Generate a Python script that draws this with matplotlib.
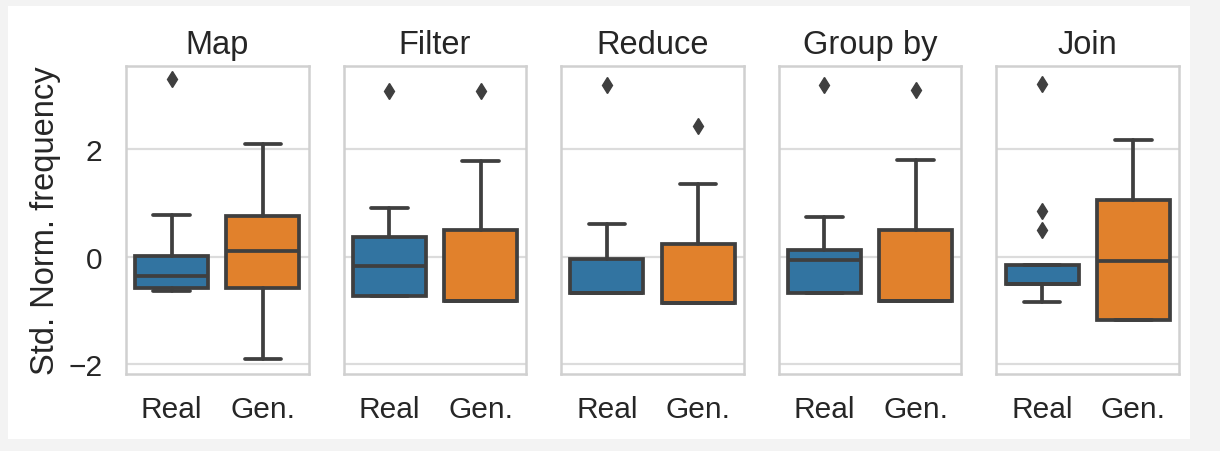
import matplotlib
matplotlib.use("Agg")
import matplotlib.pyplot as plt
from matplotlib.patches import Rectangle
import seaborn as sns

panels = ["Map", "Filter", "Reduce", "Group by", "Join"]
groups = ["Real", "Gen."]

# box statistics per panel (standardised frequencies)
real_whislo = [-0.64, -0.72, -0.68, -0.68, -0.84]
real_q1 = [-0.58, -0.72, -0.68, -0.68, -0.51]
real_med = [-0.35, -0.17, -0.68, -0.06, -0.51]
real_q3 = [0.02, 0.37, -0.04, 0.13, -0.16]
real_whishi = [0.78, 0.91, 0.61, 0.74, -0.16]
real_fliers = [[3.31], [3.09], [3.20], [3.20], [3.21, 0.85, 0.49]]

gen_whislo = [-1.90, -0.82, -0.86, -0.83, -1.18]
gen_q1 = [-0.58, -0.82, -0.86, -0.83, -1.18]
gen_med = [0.11, -0.82, -0.86, -0.83, -0.07]
gen_q3 = [0.76, 0.50, 0.23, 0.50, 1.06]
gen_whishi = [2.10, 1.79, 1.36, 1.81, 2.18]
gen_fliers = [[], [3.09], [2.44], [3.11], []]

colors = ["#3274a1", "#e1812c"]
line_c = "#3f3f3f"
lw = 2.7

sns.set_style("whitegrid")
plt.rcParams["font.family"] = ["Liberation Sans", "DejaVu Sans"]

fig, axes = plt.subplots(1, 5, figsize=(12.2, 4.52), dpi=100, sharey=True)
fig.patch.set_facecolor("#f3f3f3")
fig.patches.append(Rectangle((8 / 1220, 12 / 452), 1182 / 1220, 433 / 452,
                             transform=fig.transFigure, facecolor="white",
                             edgecolor="none", zorder=-10))
fig.subplots_adjust(left=126 / 1220, right=1179 / 1220, bottom=1 - 375 / 452,
                    top=1 - 67 / 452, wspace=0.192)

for i, ax in enumerate(axes):
    stats = [
        dict(whislo=real_whislo[i], q1=real_q1[i], med=real_med[i], q3=real_q3[i],
             whishi=real_whishi[i], fliers=real_fliers[i]),
        dict(whislo=gen_whislo[i], q1=gen_q1[i], med=gen_med[i], q3=gen_q3[i],
             whishi=gen_whishi[i], fliers=gen_fliers[i]),
    ]
    bp = ax.bxp(stats, positions=[0, 1], widths=0.8, patch_artist=True,
                boxprops=dict(edgecolor=line_c, linewidth=lw),
                medianprops=dict(color=line_c, linewidth=lw),
                whiskerprops=dict(color=line_c, linewidth=lw),
                capprops=dict(color=line_c, linewidth=lw),
                flierprops=dict(marker="d", markersize=8.5, markerfacecolor=line_c,
                                markeredgecolor=line_c))
    for patch, c in zip(bp["boxes"], colors):
        patch.set_facecolor(c)
    ax.set_xlim(-0.5, 1.5)
    ax.set_ylim(-2.18, 3.55)
    ax.set_xticks([0, 1])
    ax.set_xticklabels(groups)
    ax.set_yticks([-2, 0, 2])
    ax.grid(axis="x", visible=False)
    ax.grid(axis="y", color="#dcdcdc", linewidth=1.6)
    for s in ax.spines.values():
        s.set_color("#d0d0d0")
        s.set_linewidth(1.8)
    ax.tick_params(axis="x", labelsize=21.5, pad=15, length=0, colors="#262626")
    ax.tick_params(axis="y", labelsize=21.5, pad=17, length=0, colors="#262626")
    ax.set_title(panels[i], fontsize=23.5, color="#262626", pad=9)

axes[0].set_ylabel("Std. Norm. frequency", fontsize=23.5, color="#262626", labelpad=5)

fig.savefig("out.png", dpi=100, facecolor=fig.get_facecolor())
